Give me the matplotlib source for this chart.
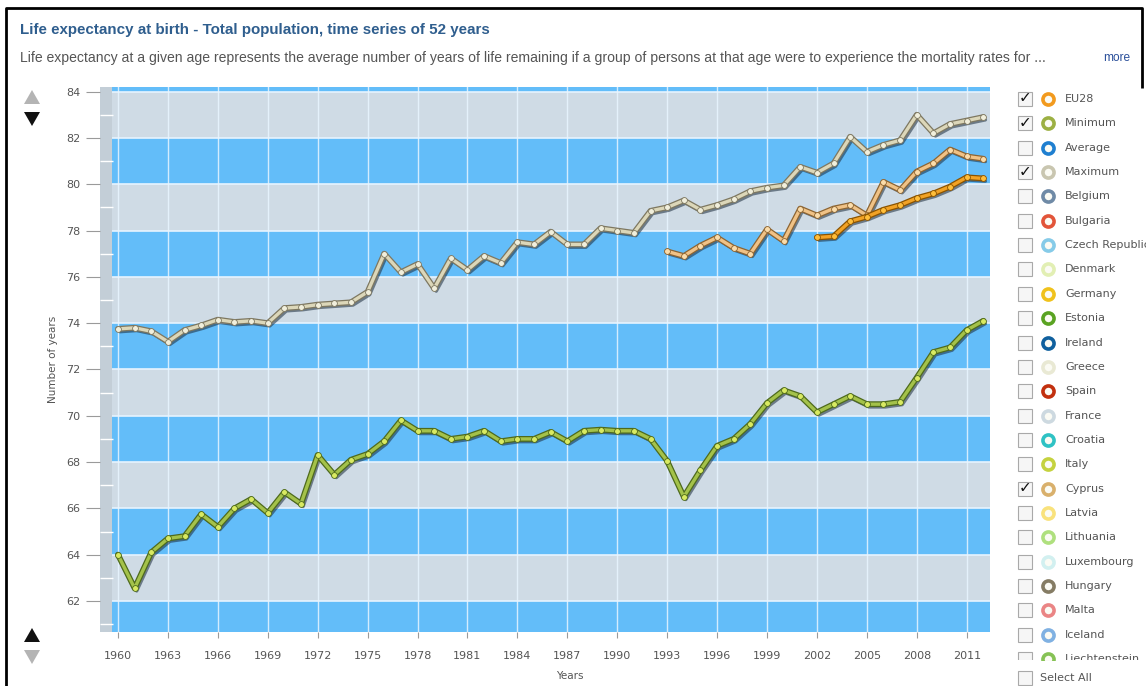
import matplotlib
matplotlib.use("Agg")
import matplotlib.pyplot as plt
import matplotlib.patheffects as pe
from matplotlib.patches import Rectangle, Polygon
from matplotlib.transforms import Bbox, TransformedBbox

# ---------------- data ----------------
years = list(range(1960, 2013))

minimum = [64.0, 62.55, 64.1, 64.7, 64.8, 65.75, 65.2, 66.0, 66.4, 65.8,
           66.7, 66.2, 68.3, 67.45, 68.1, 68.35, 68.9, 69.8, 69.35, 69.35,
           69.0, 69.1, 69.35, 68.9, 69.0, 69.0, 69.3, 68.9, 69.35, 69.4,
           69.35, 69.35, 69.0, 68.05, 66.5, 67.65, 68.7, 69.0, 69.65, 70.55,
           71.1, 70.85, 70.15, 70.5, 70.85, 70.5, 70.5, 70.6, 71.65, 72.75,
           72.95, 73.7, 74.1]

maximum = [73.75, 73.8, 73.65, 73.2, 73.7, 73.9, 74.15, 74.05, 74.1, 74.0,
           74.65, 74.7, 74.8, 74.85, 74.9, 75.35, 77.0, 76.2, 76.55, 75.5,
           76.8, 76.3, 76.9, 76.6, 77.5, 77.4, 77.95, 77.4, 77.4, 78.1,
           78.0, 77.9, 78.85, 79.0, 79.3, 78.9, 79.1, 79.35, 79.7, 79.85,
           79.95, 80.75, 80.5, 80.9, 82.05, 81.4, 81.7, 81.9, 83.0, 82.2,
           82.6, 82.75, 82.9]

cyprus_years = list(range(1993, 2013))
cyprus = [77.1, 76.9, 77.35, 77.7, 77.25, 77.0, 78.05, 77.55, 78.95, 78.65,
          78.95, 79.1, 78.65, 80.1, 79.75, 80.55, 80.9, 81.5, 81.2, 81.1]

eu28_years = list(range(2002, 2013))
eu28 = [77.7, 77.75, 78.4, 78.6, 78.9, 79.1, 79.4, 79.6, 79.9, 80.3, 80.25]

x_ticks = list(range(1960, 2012, 3))
y_ticks = list(range(62, 86, 2))

legend_names = ["EU28", "Minimum", "Average", "Maximum", "Belgium", "Bulgaria",
                "Czech Republic", "Denmark", "Germany", "Estonia", "Ireland",
                "Greece", "Spain", "France", "Croatia", "Italy", "Cyprus",
                "Latvia", "Lithuania", "Luxembourg", "Hungary", "Malta",
                "Iceland", "Liechtenstein"]
legend_colors = ["#f29a1e", "#9cb043", "#1f7fd0", "#c9c6b0", "#6f8aa6",
                 "#e2553a", "#86cbe8", "#e2efb4", "#f0c21c", "#5aa322",
                 "#10609e", "#e9e9d4", "#c2300f", "#cdd9e0", "#2fc2c4",
                 "#c5d23f", "#d9b06c", "#f9e27c", "#afe07e", "#d2f0f0",
                 "#857c64", "#ea8585", "#80b1e2", "#86c255"]
checked = ["EU28", "Minimum", "Maximum", "Cyprus"]

title = "Life expectancy at birth - Total population, time series of 52 years"
subtitle = ("Life expectancy at a given age represents the average number of years "
            "of life remaining if a group of persons at that age were to experience "
            "the mortality rates for ...")

# ---------------- figure ----------------
W, H = 1146, 686
fig = plt.figure(figsize=(W / 100, H / 100), dpi=100)
fig.patch.set_facecolor("white")

# overlay axes in pixel coordinates for decorations
ov = fig.add_axes([0, 0, 1, 1], zorder=0)
ov.set_xlim(0, W)
ov.set_ylim(H, 0)
ov.axis("off")
ov.patch.set_visible(False)

# border
ov.plot([6, 6, 1142, 1142], [H, 8, 8, 88], color="black", lw=2, solid_capstyle="butt")

# title & subtitle
t1 = ov.text(20, 30, title, fontsize=9.2, fontweight="bold", color="#2f5e8e",
             family="Liberation Sans", va="center", ha="left")
t2 = ov.text(20, 58, subtitle, fontsize=8.2, color="#555555",
             family="Liberation Sans", va="center", ha="left")
ov.text(1103, 58, "more", fontsize=8.6, color="#2a4f9a", family="Liberation Sans",
        va="center", ha="left")

fig.canvas.draw()
r = fig.canvas.get_renderer()
for t, target in ((t1, 470), (t2, 1022)):
    w = t.get_window_extent(r).width
    t.set_fontsize(t.get_fontsize() * target / w)

# arrows
def tri(cx, cy, up, color):
    w, h = 8, 7
    if up:
        pts = [(cx - w, cy + h), (cx + w, cy + h), (cx, cy - h)]
    else:
        pts = [(cx - w, cy - h), (cx + w, cy - h), (cx, cy + h)]
    ov.add_patch(Polygon(pts, closed=True, color=color, lw=0))

tri(32, 97, True, "#b4b4b4")
tri(32, 119, False, "#111111")
tri(32, 635, True, "#111111")
tri(32, 657, False, "#b4b4b4")

# ---------------- main plot ----------------
x0, x1, ytop, ybot = 100, 990, 87, 632
ax = fig.add_axes([x0 / W, 1 - ybot / H, (x1 - x0) / W, (ybot - ytop) / H], zorder=2)
ax.set_xlim(1958.92, 2012.4)
ax.set_ylim(60.66, 84.2)

blue = "#63bdf9"
grey = "#cfdbe5"
for yb in range(60, 86, 2):
    ax.axhspan(yb, yb + 2, color=blue if yb % 4 == 0 else grey, lw=0, zorder=0)
for yb in range(62, 86, 2):
    ax.axhline(yb, color="#e6f4ff", lw=1.2, zorder=1)
for xt in x_ticks:
    ax.axvline(xt, color="#e8f5ff", lw=1.0, alpha=0.85, zorder=1)
ax.axvspan(1958.92, 1959.62, color="#c3ced7", lw=0, zorder=1.5)

for s in ax.spines.values():
    s.set_visible(False)

ax.set_xticks(x_ticks)
ax.set_yticks(y_ticks)
ax.set_yticks(range(61, 85), minor=True)
ax.tick_params(axis="both", which="major", labelsize=8, labelcolor="#555555",
               color="#9a9a9a")
ax.tick_params(axis="y", which="major", length=10, width=0.8, pad=4)
ax.tick_params(axis="y", which="minor", direction="in", length=9, width=1,
               color="white")
ax.tick_params(axis="x", which="major", length=4, width=0.8, pad=10)
ax.set_xlabel("Years", fontsize=7.5, color="#555555")
ax.xaxis.set_label_coords((570 - x0) / (x1 - x0), -(671 - ybot) / (ybot - ytop))
ax.set_ylabel("Number of years", fontsize=7.5, color="#555555")
ax.yaxis.set_label_coords(-(100 - 58) / (x1 - x0), 0.5)


def series(x, y, line, edge, mface, z):
    effects = [pe.SimpleLineShadow(offset=(1.5, -2), shadow_color="#1a2a3a", alpha=0.55),
               pe.Stroke(linewidth=4.2, foreground=edge), pe.Normal()]
    ax.plot(x, y, color=line, lw=2.4, zorder=z, path_effects=effects,
            solid_joinstyle="round", solid_capstyle="round")
    ax.plot(x, y, ls="none", marker="o", ms=4.2, mfc=mface, mec=edge, mew=0.6,
            zorder=z + 0.1)


series(years, maximum, "#dcd7b9", "#7d7760", "#f1efdc", 3)
series(years, minimum, "#a4c24a", "#4e6a1c", "#d9ea62", 3.2)
series(cyprus_years, cyprus, "#f0c286", "#8c6432", "#fbdcaa", 3.4)
series(eu28_years, eu28, "#f2a224", "#8a5300", "#ffbe3a", 3.6)

# ---------------- legend panel ----------------
clipbox = TransformedBbox(Bbox([[1008, 86], [1146, 660]]), ov.transData)
row0, step = 99, 24.35
for i, (name, col) in enumerate(zip(legend_names, legend_colors)):
    yc = row0 + i * step
    box = Rectangle((1018, yc - 7), 14, 14, fc="#f6f6f6", ec="#a9a9a9", lw=0.8)
    ov.add_patch(box)
    mk, = ov.plot([1048], [yc], marker="o", ms=8, mfc="#fbfbf4", mec=col, mew=2.6,
                  ls="none")
    tx = ov.text(1065, yc, name, fontsize=8, color="#555555", va="center", ha="left",
                 family="DejaVu Sans")
    items = [box, mk, tx]
    if name in checked:
        items.append(ov.text(1025.5, yc - 1, "\u2713", fontsize=11, color="#111111",
                             va="center", ha="center", family="DejaVu Sans"))
    for it in items:
        it.set_clip_on(True)
        it.set_clip_box(clipbox)
        it.set_clip_path(None)

ov.add_patch(Rectangle((1018, 671), 14, 14, fc="#f6f6f6", ec="#a9a9a9", lw=0.8))
ov.text(1040, 678, "Select All", fontsize=8, color="#555555", va="center", ha="left",
        family="DejaVu Sans")

fig.savefig("out.png", dpi=100, facecolor="white")
